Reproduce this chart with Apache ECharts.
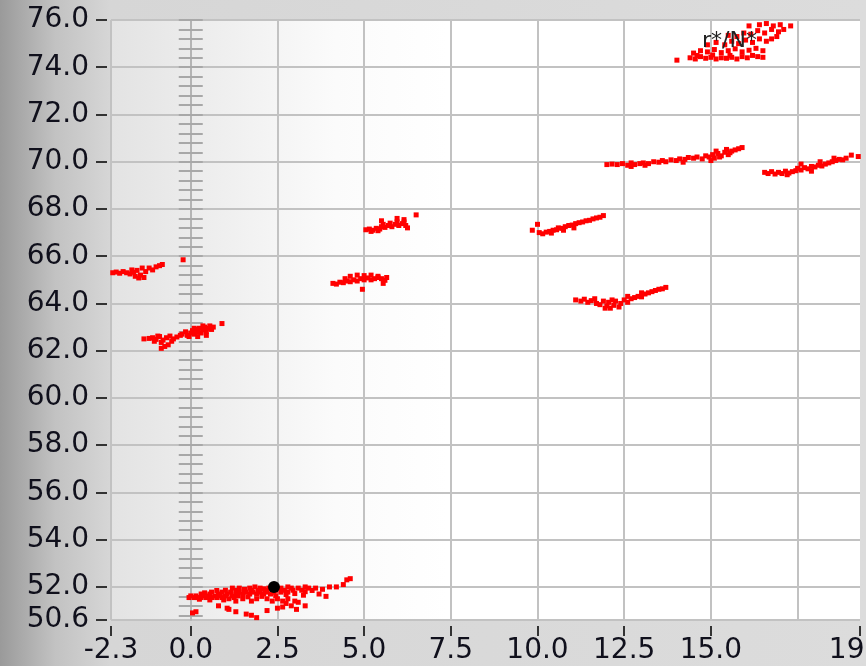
<!DOCTYPE html>
<html>
<head>
<meta charset="utf-8">
<title>r*/N* scatter</title>
<script src="https://cdn.jsdelivr.net/npm/echarts@6.0.0/dist/echarts.min.js"></script>
<style>
    html, body { margin: 0; padding: 0; }
    #chart {
        width: 866px;
        height: 666px;
        background: linear-gradient(to right, #9a9a9a 0px, #c2c2c2 55px, #d6d6d6 110px, #dcdcdc 100%);
    }
</style>
</head>
<body>
<div id="chart"></div>
<script>
// Ticks and labels of the axes
const xLabelValues = [-2.3, 0, 2.5, 5, 7.5, 10, 12.5, 15, 19.3];
const xGridValues = [-2.3, 0, 2.5, 5, 7.5, 10, 12.5, 15, 17.5];
const yLabelValues = [50.6, 52, 54, 56, 58, 60, 62, 64, 66, 68, 70, 72, 74, 76];
const rulerTickValues = [50.8, 51.2, 51.6, 52.0, 52.4, 52.8, 53.2, 53.6, 54.0, 54.4, 54.8, 55.2, 55.6,
    56.0, 56.4, 56.8, 57.2, 57.6, 58.0, 58.4, 58.8, 59.2, 59.6, 60.0, 60.4, 60.8, 61.2, 61.6, 62.0,
    62.4, 62.8, 63.2, 63.6, 64.0, 64.4, 64.8, 65.2, 65.6, 66.0, 66.4, 66.8, 67.2, 67.6, 68.0, 68.4,
    68.8, 69.2, 69.6, 70.0, 70.4, 70.8, 71.2, 71.6, 72.0, 72.4, 72.8, 73.2, 73.6, 74.0, 74.4, 74.8,
    75.2, 75.6, 76.0];

const annotationText = 'r*/N*';

// Point clouds (x, y)
const cloudTopRight = [
    [14.02, 74.3],
    [14.4, 74.4], [14.55, 74.35], [14.7, 74.45], [14.85, 74.38], [15.0, 74.42], [15.15, 74.35],
    [15.3, 74.4], [15.45, 74.38], [15.6, 74.42], [15.75, 74.35], [15.9, 74.45], [16.05, 74.4],
    [16.2, 74.5], [16.35, 74.45], [16.5, 74.42], [14.6, 74.5], [15.05, 74.52], [15.55, 74.5],
    [14.5, 74.6], [14.7, 74.7], [14.9, 74.65], [15.1, 74.75], [15.3, 74.62], [15.5, 74.7],
    [15.7, 74.78], [15.9, 74.65], [16.1, 74.72], [16.3, 74.8], [16.5, 74.7],
    [14.9, 74.95], [15.15, 75.05], [15.4, 74.95], [15.6, 75.1], [15.8, 75.0], [16.0, 75.15],
    [16.2, 75.05], [16.4, 75.2], [16.6, 75.1], [16.75, 75.2], [16.9, 75.3],
    [15.5, 75.35], [15.75, 75.3], [15.95, 75.45], [16.15, 75.4], [16.35, 75.55], [16.55, 75.45],
    [16.75, 75.6], [16.95, 75.5], [17.1, 75.6],
    [16.1, 75.75], [16.4, 75.8], [16.6, 75.85], [16.8, 75.75], [17.0, 75.8], [17.3, 75.75]
];

const cloudRow70 = [
    [12.0, 69.88], [12.15, 69.9], [12.3, 69.88], [12.45, 69.92], [12.6, 69.85], [12.7, 69.95],
    [12.8, 69.88], [12.95, 69.92], [13.05, 69.95], [13.2, 69.92], [13.35, 70.0], [13.5, 69.98],
    [13.6, 70.05], [13.7, 70.0], [13.85, 70.08], [14.0, 70.05], [14.1, 70.12], [14.25, 70.1],
    [14.35, 70.18], [14.5, 70.15], [14.6, 70.2], [14.75, 70.12], [14.85, 70.25], [14.95, 70.2],
    [15.05, 70.3], [15.1, 70.15], [15.2, 70.35], [15.3, 70.25], [15.4, 70.4], [15.5, 70.3],
    [15.6, 70.45], [15.7, 70.5], [15.8, 70.55], [15.9, 70.6], [15.15, 70.45], [15.45, 70.52],
    [15.0, 70.05], [14.2, 69.98], [12.7, 69.8], [13.1, 69.85], [15.25, 70.2], [15.55, 70.38]
];

const cloudRight70 = [
    [16.55, 69.55], [16.65, 69.5], [16.75, 69.58], [16.85, 69.48], [16.95, 69.55], [17.05, 69.5],
    [17.15, 69.6], [17.25, 69.52], [17.35, 69.58], [17.45, 69.62], [17.5, 69.72], [17.6, 69.65],
    [17.7, 69.75], [17.8, 69.7], [17.9, 69.8], [18.0, 69.78], [18.1, 69.85], [18.2, 69.82],
    [18.3, 69.9], [18.4, 69.95], [18.5, 70.0], [18.6, 70.05], [18.7, 70.1], [18.8, 70.08],
    [18.9, 70.15], [19.05, 70.28], [19.25, 70.22], [17.2, 69.45], [17.6, 69.9], [18.15, 70.0],
    [18.55, 70.15], [17.9, 69.6]
];

const cloudMid67 = [
    [5.05, 67.12], [5.15, 67.15], [5.25, 67.1], [5.35, 67.18], [5.45, 67.15], [5.5, 67.25],
    [5.6, 67.22], [5.7, 67.3], [5.8, 67.25], [5.9, 67.35], [6.0, 67.3], [6.1, 67.38], [6.2, 67.3],
    [5.55, 67.35], [5.75, 67.4], [5.95, 67.45], [6.15, 67.45], [5.2, 67.05], [5.4, 67.08],
    [6.25, 67.2], [5.5, 67.5], [5.95, 67.6], [6.15, 67.55], [6.5, 67.75]
];

const cloudRight67 = [
    [9.85, 67.1], [10.0, 67.35], [10.05, 67.0], [10.15, 66.95], [10.25, 67.02], [10.35, 67.05],
    [10.45, 67.1], [10.55, 67.12], [10.6, 67.2], [10.7, 67.18], [10.8, 67.25], [10.9, 67.3],
    [11.0, 67.32], [11.1, 67.38], [11.2, 67.42], [11.3, 67.45], [11.4, 67.5], [11.5, 67.52],
    [11.6, 67.58], [11.7, 67.62], [11.8, 67.65], [11.9, 67.72], [10.4, 66.98], [10.75, 67.1],
    [11.05, 67.2]
];

const cloudLeft65 = [
    [-2.25, 65.3], [-2.15, 65.33], [-2.05, 65.28], [-1.95, 65.35], [-1.85, 65.3], [-1.75, 65.25],
    [-1.65, 65.32], [-1.55, 65.4], [-1.6, 65.15], [-1.5, 65.08], [-1.45, 65.2], [-1.4, 65.5],
    [-1.3, 65.35], [-1.2, 65.5], [-1.1, 65.42], [-1.0, 65.55], [-0.9, 65.6], [-0.82, 65.65],
    [-1.7, 65.42], [-1.35, 65.1], [-0.22, 65.85]
];

const cloudMid65 = [
    [4.1, 64.85], [4.2, 64.82], [4.3, 64.9], [4.4, 64.88], [4.5, 64.95], [4.6, 64.92], [4.7, 65.0],
    [4.8, 64.95], [4.9, 65.05], [5.0, 65.0], [5.1, 65.08], [5.2, 65.0], [5.3, 65.05], [5.4, 65.1],
    [5.5, 65.05], [5.6, 64.98], [4.6, 65.15], [4.8, 65.2], [5.0, 65.18], [5.2, 65.2], [5.4, 65.15],
    [5.55, 64.85], [4.95, 64.6], [4.45, 65.05], [5.65, 65.1]
];

const cloudRight64 = [
    [11.1, 64.15], [11.25, 64.1], [11.35, 64.18], [11.45, 64.05], [11.55, 64.12], [11.65, 64.2],
    [11.7, 64.0], [11.8, 63.95], [11.9, 64.1], [12.0, 63.9], [12.05, 64.05], [12.1, 63.8],
    [12.2, 63.92], [12.25, 64.1], [12.35, 63.85], [12.4, 64.0], [12.5, 64.15], [12.6, 64.05],
    [12.7, 64.2], [12.8, 64.25], [12.9, 64.3], [13.0, 64.28], [13.1, 64.4], [13.2, 64.45],
    [13.3, 64.5], [13.4, 64.55], [13.5, 64.6], [13.6, 64.62], [13.7, 64.68], [12.15, 64.15],
    [11.95, 63.8], [12.6, 64.3], [13.0, 64.45]
];

const cloudLeft62 = [
    [-1.35, 62.5], [-1.2, 62.52], [-1.1, 62.55], [-1.0, 62.48], [-0.9, 62.6], [-0.8, 62.45],
    [-0.7, 62.55], [-0.6, 62.62], [-0.5, 62.5], [-0.4, 62.58], [-1.05, 62.4], [-0.85, 62.35],
    [-0.95, 62.62], [-0.55, 62.4], [-0.3, 62.65], [-0.85, 62.1], [-0.75, 62.18], [-0.65, 62.25],
    [-0.25, 62.7], [-0.15, 62.8], [-0.1, 62.65], [0.0, 62.75], [0.05, 62.85], [0.1, 62.7],
    [0.15, 62.9], [0.2, 62.8], [0.25, 62.95], [0.3, 62.75], [0.35, 62.88], [0.4, 63.0],
    [0.45, 62.82], [0.5, 62.95], [0.55, 63.05], [0.6, 62.9], [0.65, 63.0], [-0.05, 62.6],
    [0.2, 62.6], [0.45, 62.65], [0.1, 62.95], [0.35, 63.05], [0.9, 63.15]
];

const cloudBottom52 = [
    [-0.05, 51.55], [0.1, 51.55], [0.2, 51.55], [0.3, 51.55], [0.45, 51.55], [0.6, 51.55],
    [0.75, 51.55], [0.9, 51.55],
    [0.0, 51.62], [0.15, 51.62], [0.35, 51.62], [0.5, 51.62], [0.7, 51.62], [0.85, 51.62],
    [1.0, 51.62], [1.2, 51.62], [1.35, 51.62], [1.5, 51.62],
    [0.3, 51.7], [0.55, 51.7], [0.8, 51.7], [1.05, 51.7], [1.3, 51.7], [1.5, 51.7], [1.7, 51.7],
    [1.9, 51.7], [2.1, 51.7], [2.3, 51.7],
    [0.6, 51.78], [0.9, 51.78], [1.15, 51.78], [1.4, 51.78], [1.6, 51.78], [1.8, 51.78],
    [2.0, 51.78], [2.2, 51.78], [2.4, 51.78], [2.6, 51.78], [2.8, 51.78],
    [1.0, 51.86], [1.3, 51.86], [1.55, 51.86], [1.75, 51.86], [1.95, 51.86], [2.15, 51.86],
    [2.45, 51.86], [2.7, 51.86], [2.95, 51.86], [3.2, 51.86],
    [1.4, 51.95], [1.7, 51.95], [2.0, 51.95], [2.25, 51.95], [2.6, 51.95], [2.9, 51.95],
    [3.1, 51.95], [3.4, 51.95], [3.6, 51.95],
    [1.1, 51.5], [1.5, 51.5], [1.9, 51.5], [2.2, 51.5], [2.5, 51.5], [2.8, 51.5],
    [1.3, 51.4], [1.75, 51.4], [2.35, 51.4], [2.65, 51.4], [3.0, 51.4],
    [0.25, 51.48], [0.55, 51.45], [0.95, 51.45], [1.25, 51.55], [1.65, 51.58], [2.05, 51.6],
    [2.45, 51.62], [2.75, 51.68], [3.0, 51.72], [3.25, 51.65], [1.55, 51.9], [1.85, 52.0],
    [2.1, 51.92], [2.8, 52.0], [3.3, 52.0], [3.5, 51.85], [0.4, 51.75], [0.75, 51.85], [1.2, 51.95],
    [3.3, 51.8], [3.7, 51.7], [3.8, 51.9], [4.0, 52.0], [4.2, 52.0], [4.4, 52.1], [4.5, 52.3],
    [4.6, 52.35], [3.9, 51.6],
    [0.05, 50.9], [0.15, 50.95], [0.8, 51.2], [1.05, 51.1], [1.1, 51.05], [1.6, 50.85],
    [1.75, 50.8], [2.2, 51.0], [2.5, 51.1], [2.65, 51.15], [2.9, 51.2], [3.05, 51.05],
    [3.3, 51.2], [1.9, 50.7], [1.3, 50.95], [2.75, 51.3], [3.1, 51.35]
];

const cursorPoint = [[2.4, 52.0]];

const allPoints = [].concat(cloudTopRight, cloudRow70, cloudRight70, cloudMid67, cloudRight67,
    cloudLeft65, cloudMid65, cloudRight64, cloudLeft62, cloudBottom52);

const labelFont = 'DejaVu Sans';
const labelColor = '#10101c';
const gridColor = '#c2c2c2';

const chart = echarts.init(document.getElementById('chart'));

chart.setOption({
    animation: false,
    backgroundColor: 'transparent',
    grid: {
        left: 111, right: 6, top: 20, bottom: 46,
        outerBoundsMode: 'none',
        show: true,
        borderWidth: 0,
        backgroundColor: new echarts.graphic.LinearGradient(0, 0, 1, 0, [
            { offset: 0, color: '#e3e3e3' },
            { offset: 0.15, color: '#efefef' },
            { offset: 0.3, color: '#fbfbfb' },
            { offset: 0.45, color: '#ffffff' },
            { offset: 1, color: '#ffffff' }
        ])
    },
    xAxis: [
        {
            // grid lines only
            type: 'value', min: -2.3, max: 19.3, position: 'bottom',
            axisLine: { show: false, onZero: false },
            axisTick: { show: false, customValues: xGridValues },
            axisLabel: { show: false },
            splitLine: { show: true, lineStyle: { color: gridColor, width: 2 } }
        },
        {
            // labels and ticks
            type: 'value', min: -2.3, max: 19.3, position: 'bottom', offset: 6,
            axisLine: { show: false, onZero: false },
            axisTick: { show: true, length: 10, customValues: xLabelValues, lineStyle: { color: '#333', width: 2 } },
            axisLabel: {
                customValues: xLabelValues, margin: 11,
                formatter: v => v.toFixed(1),
                fontSize: 28, fontFamily: labelFont, color: labelColor
            },
            splitLine: { show: false }
        }
    ],
    yAxis: [
        {
            type: 'value', min: 50.6, max: 76, position: 'left', offset: 4, splitNumber: 12,
            axisLine: { show: false, onZero: false },
            axisTick: { show: true, length: 11, customValues: yLabelValues, lineStyle: { color: '#333', width: 2 } },
            axisLabel: {
                customValues: yLabelValues, margin: 18,
                formatter: v => v.toFixed(1),
                fontSize: 28, fontFamily: labelFont, color: labelColor
            },
            splitLine: { show: true, lineStyle: { color: gridColor, width: 2 } }
        },
        {
            // ruler on x = 0, left half of the ticks
            type: 'value', min: 50.6, max: 76, position: 'left',
            axisLine: { show: true, onZero: true, onZeroAxisIndex: 0, lineStyle: { color: '#b4b4b4', width: 2 } },
            axisTick: { show: true, inside: false, length: 12, customValues: rulerTickValues, lineStyle: { color: '#a8a8a8', width: 2 } },
            axisLabel: { show: false },
            splitLine: { show: false }
        },
        {
            // ruler on x = 0, right half of the ticks
            type: 'value', min: 50.6, max: 76, position: 'left',
            axisLine: { show: false, onZero: true, onZeroAxisIndex: 0 },
            axisTick: { show: true, inside: true, length: 12, customValues: rulerTickValues, lineStyle: { color: '#a8a8a8', width: 2 } },
            axisLabel: { show: false },
            splitLine: { show: false }
        }
    ],
    graphic: [
        {
            type: 'text', left: 702, top: 30, z: 10,
            style: { text: annotationText, fill: '#222', font: '22px "DejaVu Sans"' }
        }
    ],
    series: [
        {
            name: 'points',
            type: 'scatter',
            xAxisIndex: 0, yAxisIndex: 0,
            symbol: 'rect', symbolSize: 5,
            itemStyle: { color: '#ff0000', opacity: 1 },
            data: allPoints,
            silent: true,
            z: 3
        },
        {
            name: 'cursor',
            type: 'scatter',
            xAxisIndex: 0, yAxisIndex: 0,
            symbolSize: 12,
            itemStyle: { color: '#000000', opacity: 1 },
            data: cursorPoint,
            silent: true,
            z: 5
        }
    ]
});
</script>
</body>
</html>
